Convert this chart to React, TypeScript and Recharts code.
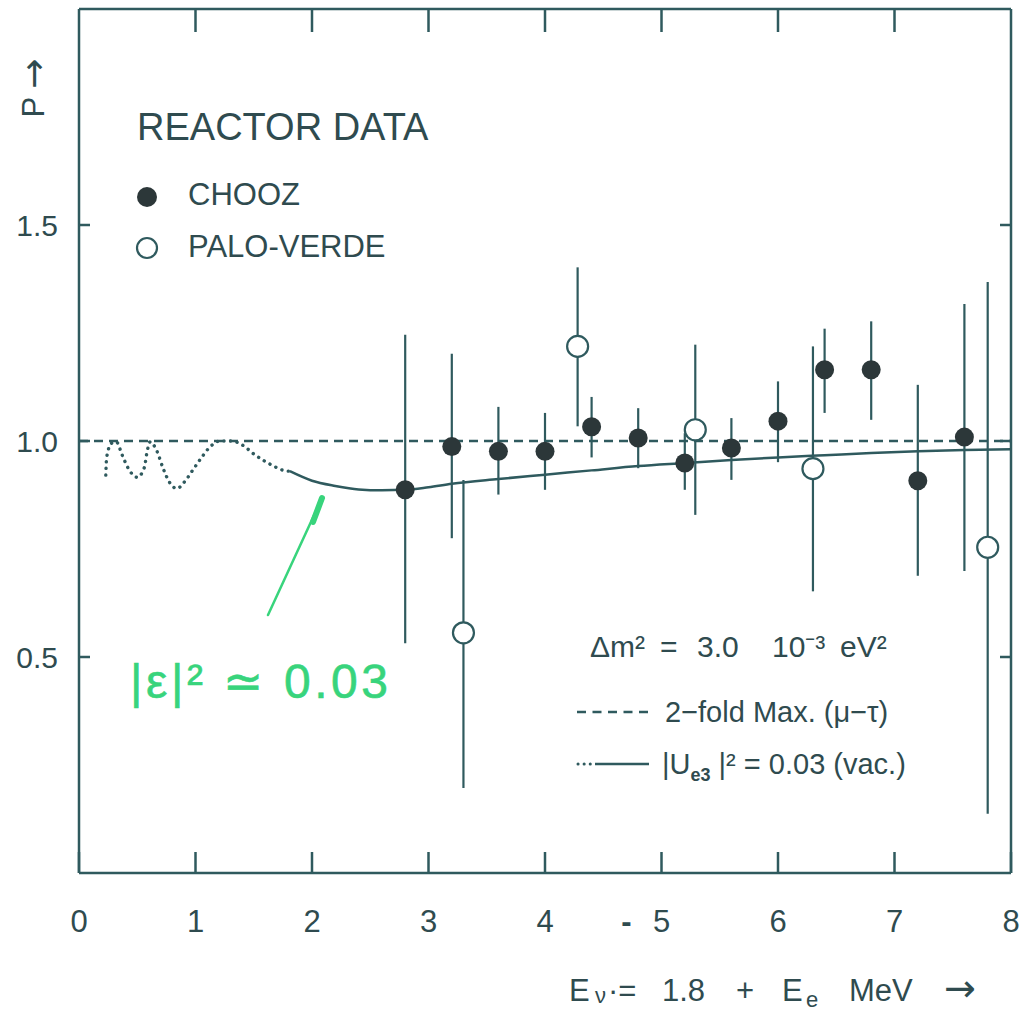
import {
  ComposedChart,
  Scatter,
  Line,
  XAxis,
  YAxis,
  ErrorBar,
  ReferenceLine,
} from "recharts";

// Colores del gráfico escaneado
const AX = "#2f5a5e";
const DOT = "#2c3739";
const TXT = "#2f4b4f";
const GREEN = "#38d47c";
const FONT = "'Liberation Sans', Arial, sans-serif";
const ARROW_FONT = "'DejaVu Sans', sans-serif";

// CHOOZ (puntos llenos): energía, P, extremos de la barra de error
const choozE = [2.8, 3.2, 3.6, 4.0, 4.4, 4.8, 5.2, 5.6, 6.0, 6.4, 6.8, 7.2, 7.6];
const choozP = [0.887, 0.987, 0.976, 0.976, 1.033, 1.007, 0.949, 0.984, 1.046, 1.165, 1.165, 0.908, 1.009];
const choozLow = [0.532, 0.775, 0.876, 0.887, 0.962, 0.937, 0.887, 0.91, 0.951, 1.065, 1.049, 0.688, 0.699];
const choozHigh = [1.246, 1.202, 1.079, 1.065, 1.102, 1.076, 1.018, 1.053, 1.138, 1.26, 1.277, 1.13, 1.317];

// PALO-VERDE (puntos vacíos)
const paloE = [3.3, 4.28, 5.29, 6.3, 7.8];
const paloP = [0.556, 1.219, 1.026, 0.936, 0.754];
const paloLow = [0.197, 1.034, 0.829, 0.652, 0.137];
const paloHigh = [0.91, 1.402, 1.223, 1.219, 1.368];

// curva |Ue3|^2 = 0.03 (tramo sólido)
const vacE = [1.81, 2.0, 2.2, 2.4, 2.6, 2.8, 3.0, 3.2, 3.6, 4.0, 4.4, 4.8, 5.2, 5.6, 6.0, 6.4, 6.8, 7.2, 7.6, 8.0];
const vacP = [0.93, 0.908, 0.896, 0.888, 0.886, 0.887, 0.893, 0.901, 0.912, 0.922, 0.932, 0.942, 0.949, 0.956, 0.962, 0.967, 0.972, 0.976, 0.979, 0.981];

// misma curva, tramo punteado a baja energía
const dotE = [0.23, 0.235, 0.25, 0.28, 0.32, 0.37, 0.42, 0.5, 0.56, 0.585, 0.61, 0.67, 0.72, 0.78, 0.84, 0.91, 0.98, 1.05, 1.12, 1.21, 1.31, 1.4, 1.51, 1.65, 1.77, 1.81];
const dotP = [0.921, 0.953, 0.978, 0.995, 0.998, 0.968, 0.938, 0.916, 0.938, 0.976, 0.998, 0.976, 0.938, 0.903, 0.89, 0.907, 0.934, 0.961, 0.985, 1.0, 1.0, 0.991, 0.968, 0.945, 0.931, 0.93];

const xTicks = [0, 1, 2, 3, 4, 5, 6, 7, 8];
const xTicksTop = [1, 2, 3, 4, 5, 6, 7];
const yTicks = [0.5, 1.0, 1.5];

const toPoints = (xs: number[], ys: number[], lo: number[], hi: number[]) =>
  xs.map((x, i) => ({ x, y: ys[i], err: [ys[i] - lo[i], hi[i] - ys[i]] }));

const toCurve = (xs: number[], ys: number[]) => xs.map((x, i) => ({ x, y: ys[i] }));

const chooz = toPoints(choozE, choozP, choozLow, choozHigh);
const palo = toPoints(paloE, paloP, paloLow, paloHigh);
const vacCurve = toCurve(vacE, vacP);
const dotCurve = toCurve(dotE, dotP);

const FilledDot = (props: any) => <circle cx={props.cx} cy={props.cy} r={9.5} fill={DOT} />;
const OpenDot = (props: any) => (
  <circle cx={props.cx} cy={props.cy} r={10.5} fill="#fff" stroke={AX} strokeWidth={2.2} />
);
const NoDot = () => <g />;

const XTick = ({ x, y, payload }: any) => {
  const v = payload.value;
  return (
    <text x={x} y={y + 23} textAnchor="middle" fontSize={31} fill={TXT} fontFamily={FONT}>
      {v === 5 ? (
        <>
          <tspan x={x - 35} fontWeight="bold">-</tspan>
          <tspan x={x}>5</tspan>
        </>
      ) : (
        v
      )}
    </text>
  );
};

const axisStyle = { stroke: AX, strokeWidth: 2.5 };

const Overlay = () => (
  <svg
    width={1023}
    height={1015}
    style={{ position: "absolute", left: 0, top: 0, pointerEvents: "none", whiteSpace: "pre" }}
    fontFamily={FONT}
    fill={TXT}
  >
    <text x={33} y={88} fontSize={31} textAnchor="middle" dominantBaseline="central" transform="rotate(-90 33 88)">
      P <tspan fontFamily={ARROW_FONT} fontSize={36}>→</tspan>
    </text>

    <text x={137} y={140} fontSize={38}>REACTOR DATA</text>
    <circle cx={147} cy={197} r={10} fill={DOT} />
    <text x={188} y={205} fontSize={31}>CHOOZ</text>
    <circle cx={147} cy={248} r={10} fill="#fff" stroke={AX} strokeWidth={2.2} />
    <text x={188} y={257} fontSize={31}>PALO-VERDE</text>

    <text y={657} fontSize={30}>
      <tspan x={590}>Δm²</tspan>
      <tspan x={660}>=</tspan>
      <tspan x={697}>3.0</tspan>
      <tspan x={772}>10⁻³</tspan>
      <tspan x={840}>eV²</tspan>
    </text>
    <line x1={577} y1={712} x2={649} y2={712} stroke={AX} strokeWidth={2.5} strokeDasharray="9 6.5" />
    <text x={665} y={722} fontSize={29}>2−fold Max. (μ−τ)</text>
    <line x1={578} y1={764} x2={592} y2={764} stroke={AX} strokeWidth={3} strokeDasharray="0.1 6" strokeLinecap="round" />
    <line x1={595} y1={764} x2={649} y2={764} stroke={AX} strokeWidth={2.5} />
    <text y={774} fontSize={29}>
      <tspan x={662}>|U</tspan>
      <tspan fontSize={18} fontWeight="bold" dy={7}>e3</tspan>
      <tspan dy={-7}> |² = 0.03 (vac.)</tspan>
    </text>

    <text y={1001} fontSize={31}>
      <tspan x={569}>E</tspan>
      <tspan x={595} fontSize={22} dy={2}>ν</tspan>
      <tspan x={608} dy={-2}>·=</tspan>
      <tspan x={662}>1.8</tspan>
      <tspan x={736}>+</tspan>
      <tspan x={782}>E</tspan>
      <tspan x={806} fontSize={22} dy={6}>e</tspan>
      <tspan x={849} dy={-6}>MeV</tspan>
      <tspan x={944} fontFamily={ARROW_FONT} fontSize={38}>→</tspan>
    </text>

    {/* anotación manuscrita en verde */}
    <line x1={268} y1={615} x2={322} y2={498} stroke={GREEN} strokeWidth={2.5} strokeLinecap="round" />
    <line x1={313} y1={522} x2={322} y2={498} stroke={GREEN} strokeWidth={6} strokeLinecap="round" />
    <text
      x={130}
      y={698}
      fontSize={48}
      fill={GREEN}
      stroke={GREEN}
      strokeWidth={0.6}
      textLength={258}
      lengthAdjust="spacing"
    >
      |ε|² ≃ 0.03
    </text>
  </svg>
);

const App = () => (
  <div style={{ position: "absolute", left: 0, top: 0, width: 1023, height: 1015, background: "#fff" }}>
    <ComposedChart width={1023} height={1015} margin={{ top: 0, right: 0, bottom: 0, left: 0 }}>
      <XAxis
        xAxisId={0}
        dataKey="x"
        type="number"
        domain={[0, 8]}
        ticks={xTicks}
        interval={0}
        allowDataOverflow
        height={142}
        axisLine={axisStyle}
        tickLine={axisStyle}
        tickSize={-21}
        tickMargin={57}
        tick={<XTick />}
      />
      <XAxis
        xAxisId="t"
        dataKey="x"
        orientation="top"
        type="number"
        domain={[0, 8]}
        ticks={xTicksTop}
        interval={0}
        allowDataOverflow
        height={9}
        axisLine={axisStyle}
        tickLine={axisStyle}
        tickSize={-23}
        tickFormatter={() => " "}
      />
      <YAxis
        yAxisId={0}
        dataKey="y"
        type="number"
        domain={[0, 2]}
        ticks={yTicks}
        interval={0}
        allowDataOverflow
        width={79}
        axisLine={axisStyle}
        tickLine={axisStyle}
        tickSize={-11}
        tickMargin={32}
        tickFormatter={(v: number) => v.toFixed(1)}
        tick={{ fontSize: 30, fill: TXT, fontFamily: FONT }}
      />
      <YAxis
        yAxisId="r"
        dataKey="y"
        orientation="right"
        type="number"
        domain={[0, 2]}
        ticks={yTicks}
        interval={0}
        allowDataOverflow
        width={12}
        axisLine={axisStyle}
        tickLine={axisStyle}
        tickSize={-11}
        tickFormatter={() => " "}
      />
      <Line
        data={dotCurve}
        dataKey="y"
        type="monotone"
        dot={false}
        stroke={AX}
        strokeWidth={3.4}
        strokeDasharray="0.1 6.5"
        strokeLinecap="round"
        isAnimationActive={false}
      />
      <Line
        data={vacCurve}
        dataKey="y"
        type="monotone"
        dot={false}
        stroke={AX}
        strokeWidth={2.5}
        isAnimationActive={false}
      />
      <ReferenceLine y={1} stroke={AX} strokeWidth={2.5} strokeDasharray="9 6" />
      {/* serie invisible para que los ejes superior y derecho tengan escala */}
      <Scatter data={chooz} xAxisId="t" yAxisId="r" shape={NoDot} isAnimationActive={false} />
      <Scatter data={chooz} shape={FilledDot} isAnimationActive={false}>
        <ErrorBar dataKey="err" direction="y" width={0} stroke={AX} strokeWidth={2.2} />
      </Scatter>
      <Scatter data={palo} shape={OpenDot} isAnimationActive={false}>
        <ErrorBar dataKey="err" direction="y" width={0} stroke={AX} strokeWidth={2.2} />
      </Scatter>
    </ComposedChart>
    <Overlay />
  </div>
);

export default App;
